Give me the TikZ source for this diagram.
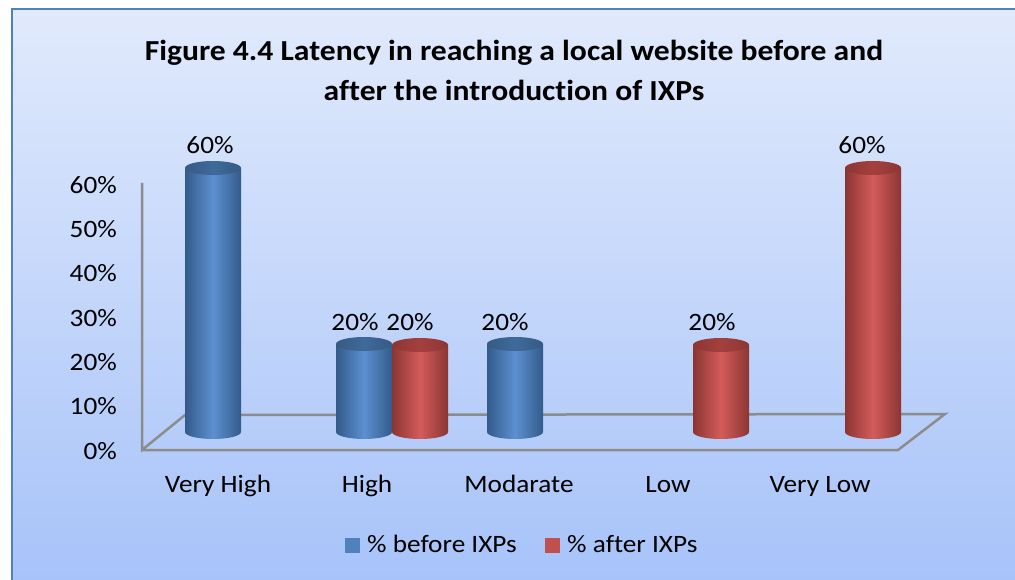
\documentclass[tikz,border=0pt]{standalone}
\usepackage{fontspec}
\setmainfont{Carlito}[Ligatures=NoCommon, FakeStretch=1.09]
\definecolor{bgtop}{HTML}{E1EAFC}
\definecolor{bgbot}{HTML}{A7C3F9}
\definecolor{frame}{HTML}{4F81BD}
\definecolor{axisgray}{HTML}{8C8C8C}
\definecolor{blueedge}{HTML}{335B8A}
\definecolor{bluemid}{HTML}{5C90D2}
\definecolor{bluetop}{HTML}{3F6A9B}
\definecolor{rededge}{HTML}{8B3533}
\definecolor{redmid}{HTML}{D35C5A}
\definecolor{redtop}{HTML}{A4403E}
\definecolor{blueleg}{HTML}{4F81BD}
\definecolor{redleg}{HTML}{C0504D}
\newcommand\barcyl[5]{%
  \shade[left color=#3, right color=#3, middle color=#4]
    (#1,#2) -- (#1,432) arc[start angle=180,end angle=360,x radius=28pt,y radius=7pt]
    -- (#1+56,#2) -- cycle;
  \shade[left color=#5!85!black, right color=#5!85!black, middle color=#5]
    (#1+28,#2) ellipse[x radius=28pt,y radius=7pt];
}
\tikzset{
  lab/.style={font=\fontsize{25}{30}\selectfont, text=black, inner sep=0pt, anchor=base},
  ttl/.style={font=\fontsize{29}{40}\selectfont\bfseries, text=black, inner sep=0pt, align=center},
  axisline/.style={draw=axisgray, line width=2.5pt}
}
\begin{document}
\begin{tikzpicture}[x=1pt,y=-1pt]
\useasboundingbox (0,0) rectangle (1015,580);
\clip (0,0) rectangle (1015,580);
\fill[white] (-5,-5) rectangle (1030,600);
\fill[bgbot] (12,9) rectangle (1030,600);
\shade[top color=bgtop, bottom color=bgbot] (12,9) rectangle (1015,580);
\draw[frame, line width=2pt] (12,600) -- (12,9) -- (1030,9);
% title
\node[ttl] (title) at (514,70) {Figure 4.4 Latency in reaching a local website before and\\after the introduction of IXPs};
% floor and axis
\coordinate (fl) at (142,450);
\coordinate (bl) at (185,415);
\coordinate (br) at (945,414);
\coordinate (fr) at (898,450);
\coordinate (top) at (142,183);
\draw[axisline, line join=miter] (top) -- (fl) -- (bl) -- (br) -- (fr) -- (fl);
% y ticks
\node[lab, anchor=base east] (y0) at (117,459) {0\%};
\node[lab, anchor=base east] (y1) at (117,414.7) {10\%};
\node[lab, anchor=base east] (y2) at (117,370.4) {20\%};
\node[lab, anchor=base east] (y3) at (117,326.1) {30\%};
\node[lab, anchor=base east] (y4) at (117,281.8) {40\%};
\node[lab, anchor=base east] (y5) at (117,237.5) {50\%};
\node[lab, anchor=base east] (y6) at (117,193.2) {60\%};
% bars
\barcyl{185}{168}{blueedge}{bluemid}{bluetop}
\barcyl{336}{344}{blueedge}{bluemid}{bluetop}
\barcyl{392}{345}{rededge}{redmid}{redtop}
\barcyl{487}{344}{blueedge}{bluemid}{bluetop}
\barcyl{693}{345}{rededge}{redmid}{redtop}
\barcyl{845}{168}{rededge}{redmid}{redtop}
% data labels
\node[lab] (d1) at (210,154) {60\%};
\node[lab] (d2) at (355,330) {20\%};
\node[lab] (d3) at (410,330) {20\%};
\node[lab] (d4) at (505,330) {20\%};
\node[lab] (d5) at (712,330) {20\%};
\node[lab] (d6) at (862,154) {60\%};
% categories
\node[lab] (c1) at (218,492) {Very High};
\node[lab] (c2) at (367,492) {High};
\node[lab] (c3) at (519,492) {Modarate};
\node[lab] (c4) at (668,492) {Low};
\node[lab] (c5) at (820,492) {Very Low};
% legend
\fill[blueleg] (345,538) rectangle (360,553);
\node[lab, anchor=base west] (l1) at (367,552) {\% before IXPs};
\fill[redleg] (545,538) rectangle (560,553);
\node[lab, anchor=base west] (l2) at (567,552) {\% after IXPs};
\end{tikzpicture}
\end{document}
